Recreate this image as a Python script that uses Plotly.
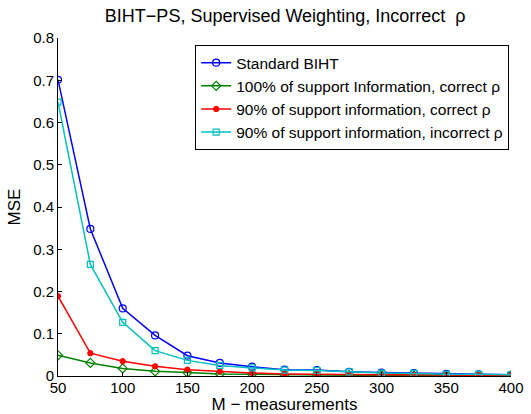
import plotly.graph_objects as go

m = [50, 75, 100, 125, 150, 175, 200, 225, 250, 275, 300, 325, 350, 375, 400]
standard = [0.701, 0.348, 0.160, 0.096, 0.048, 0.031, 0.022, 0.015, 0.014, 0.010, 0.008, 0.007, 0.005, 0.004, 0.003]
full_correct = [0.049, 0.031, 0.018, 0.011, 0.008, 0.005, 0.004, 0.003, 0.002, 0.002, 0.002, 0.001, 0.001, 0.001, 0.001]
ninety_correct = [0.189, 0.054, 0.035, 0.023, 0.015, 0.011, 0.007, 0.005, 0.004, 0.004, 0.003, 0.003, 0.002, 0.002, 0.002]
ninety_incorrect = [0.648, 0.264, 0.127, 0.060, 0.037, 0.025, 0.019, 0.014, 0.013, 0.010, 0.007, 0.006, 0.004, 0.004, 0.003]
x_ticks = [50, 100, 150, 200, 250, 300, 350, 400]
y_ticks = [0, 0.1, 0.2, 0.3, 0.4, 0.5, 0.6, 0.7, 0.8]
y_tick_labels = ["0", "0.1", "0.2", "0.3", "0.4", "0.5", "0.6", "0.7", "0.8"]

names = ["Standard BIHT",
         "100% of support Information, correct ρ",
         "90% of support information, correct ρ",
         "90% of support information, incorrect ρ"]
series = [standard, full_correct, ninety_correct, ninety_incorrect]
colors = ["#0000ff", "#008000", "#ff0000", "#00bfbf"]
symbols = ["circle-open", "diamond-open", "circle", "square-open"]
sizes = [7, 7, 5, 6]

fig = go.Figure()
for n, s, c, sym, sz in zip(names, series, colors, symbols, sizes):
    fig.add_trace(go.Scatter(x=m, y=s, name=n, mode="lines+markers",
                             line=dict(color=c, width=1.5),
                             marker=dict(symbol=sym, size=sz, color=c,
                                         line=dict(color=c, width=1.2))))

font = "Liberation Sans, Arial, Helvetica, sans-serif"
fig.update_layout(
    width=531, height=414,
    margin=dict(l=58, r=20, t=38, b=38),
    paper_bgcolor="white", plot_bgcolor="white",
    font=dict(family=font, size=15, color="black"),
    title=dict(text="BIHT−PS, Supervised Weighting, Incorrect  ρ", x=0.537, xanchor="center",
               y=0.962, yanchor="middle", font=dict(size=18)),
    showlegend=True,
    legend=dict(x=0.996, xanchor="right", y=0.979, yanchor="top",
                bordercolor="black", borderwidth=1, bgcolor="white",
                font=dict(size=15.5), itemwidth=30, tracegroupgap=0),
    xaxis=dict(range=[50, 400], tickvals=x_ticks,
               ticks="inside", ticklen=4, tickcolor="black", automargin=False,
               ticklabelstandoff=-2,
               showline=True, linecolor="black", linewidth=1, showgrid=False, zeroline=False,
               title=dict(text="M − measurements", standoff=6, font=dict(size=17)),
               tickfont=dict(size=15)),
    yaxis=dict(range=[0, 0.8], tickvals=y_ticks, ticktext=y_tick_labels,
               ticks="inside", ticklen=4, tickcolor="black", automargin=False,
               showline=True, linecolor="black", linewidth=1, showgrid=False, zeroline=False,
               title=dict(text="MSE", standoff=8, font=dict(size=17)),
               tickfont=dict(size=15)),
)

fig.write_html("out.html", config={"displayModeBar": False},
               post_script="document.body.style.margin='0';document.body.style.overflow='hidden';")
